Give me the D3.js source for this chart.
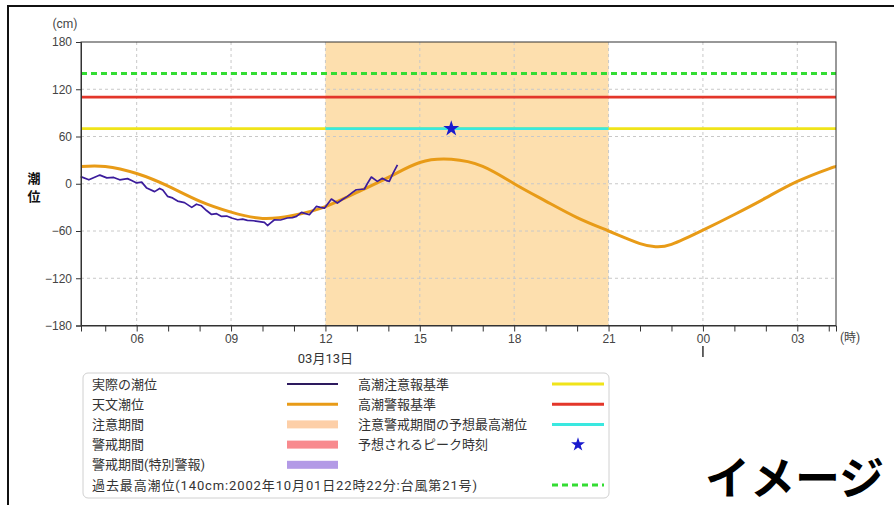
<!DOCTYPE html>
<html>
<head>
<meta charset="utf-8">
<script src="https://cdn.jsdelivr.net/npm/d3@7"></script>
<style>
  body { margin: 0; background: #fff; }
  svg { display: block; font-family: Roboto, "Noto Sans CJK JP", sans-serif; }
</style>
</head>
<body>
<svg id="chart" width="894" height="505"></svg>
<script>
// hours are counted from 03/13 00:00
var domainHours = [4.23, 28.23];

var tideHours  = [4.23, 5, 6, 7, 8, 9, 10, 11, 12, 13, 14, 15, 16, 17, 18, 19, 20, 21, 22, 22.5, 23, 24, 25, 26, 27, 28, 28.23];
var tideValues = [22, 22, 13, -3, -22, -36, -44, -40, -29, -11, 8, 27, 31, 22, 0, -22, -43, -60, -76, -80, -77, -59, -39, -18, 3, 19, 22];

var obsHours = [4.22, 4.48, 4.83, 5.05, 5.27, 5.46, 5.71, 5.84, 6.0, 6.16, 6.32, 6.57, 6.73, 6.83, 6.98, 7.14, 7.30, 7.52, 7.75, 7.90,
                8.06, 8.22, 8.38, 8.54, 8.70, 8.86, 9.02, 9.21, 9.37, 9.52, 9.71, 9.90, 10.06, 10.16, 10.25, 10.38, 10.57, 10.79, 10.95,
                11.08, 11.24, 11.37, 11.49, 11.71, 11.84, 11.97, 12.19, 12.38, 12.54, 12.70, 12.86, 12.98, 13.24, 13.33, 13.46, 13.65,
                13.81, 13.94, 14.03, 14.16, 14.29];
var obsValues = [9, 5, 11, 7.5, 8, 5, 6.5, 4, 1, 2, -5.5, -10, -6, -8, -16, -18, -22, -24, -30, -26,
                 -28, -34, -39, -38, -41.5, -41, -43.5, -45.7, -45, -46.5, -47, -48, -49, -53, -50, -45.7, -46, -43.5, -43,
                 -41.5, -36.4, -38, -39.3, -28.8, -30, -31, -19.4, -24.5, -20, -16, -11, -7.6, -6.7, 0, 8.5, 3,
                 7, 4, 3, 14, 24];

var attentionLevel = 70;   // 高潮注意報基準
var warningLevel = 110;    // 高潮警報基準
var recordLevel = 140;     // 過去最高潮位
var cautionPeriod = [12, 21];
var predictedMax = 70;
var peakHour = 16;

var yTicks = [-180, -120, -60, 0, 60, 120, 180];
var dateLabel = '03月13日';

var legendLeft = ['実際の潮位', '天文潮位', '注意期間', '警戒期間', '警戒期間(特別警報)'];
var legendRight = ['高潮注意報基準', '高潮警報基準', '注意警戒期間の予想最高潮位', '予想されるピーク時刻'];
var recordLabel = '過去最高潮位(140cm:2002年10月01日22時22分:台風第21号)';

var base = new Date(2025, 2, 13);
function toDate(h) { return new Date(base.getTime() + h * 3600000); }

var svg = d3.select('#chart');
var plotLeft = 81, plotRight = 836, plotTop = 42, plotBottom = 325.5;

// outer frame
svg.append('rect')
    .attr('x', 8).attr('y', 6).attr('width', 900).attr('height', 520)
    .attr('fill', 'none').attr('stroke', '#111').attr('stroke-width', 2);

var x = d3.scaleTime()
    .domain(domainHours.map(toDate))
    .range([plotLeft, plotRight]);

var y = d3.scaleLinear()
    .domain([-180, 180])
    .range([plotBottom, plotTop]);

var g = svg.append('g');

// caution period
g.append('rect')
    .attr('x', x(toDate(cautionPeriod[0])))
    .attr('y', plotTop)
    .attr('width', x(toDate(cautionPeriod[1])) - x(toDate(cautionPeriod[0])))
    .attr('height', plotBottom - plotTop)
    .attr('fill', '#fddfae');

// grid
var majorHours = d3.timeHour.every(3).range(toDate(domainHours[0]), toDate(domainHours[1]));
g.append('g').selectAll('line')
    .data(majorHours)
    .enter().append('line')
    .attr('x1', function (d) { return x(d); })
    .attr('x2', function (d) { return x(d); })
    .attr('y1', plotTop).attr('y2', plotBottom)
    .attr('stroke', '#c8c8c8').attr('stroke-dasharray', '3,3');

g.append('g').selectAll('line')
    .data(yTicks.slice(1, -1))
    .enter().append('line')
    .attr('x1', plotLeft).attr('x2', plotRight)
    .attr('y1', function (d) { return y(d); })
    .attr('y2', function (d) { return y(d); })
    .attr('stroke', '#c8c8c8').attr('stroke-dasharray', '3,3');

// reference levels
function hline(v, color, w, dash, h0, h1) {
    g.append('line')
        .attr('x1', x(toDate(h0))).attr('x2', x(toDate(h1)))
        .attr('y1', y(v)).attr('y2', y(v))
        .attr('stroke', color).attr('stroke-width', w)
        .attr('stroke-dasharray', dash);
}
hline(recordLevel, '#33dd33', 3, '6,4', domainHours[0], domainHours[1]);
hline(warningLevel, '#e3362a', 2.8, null, domainHours[0], domainHours[1]);
hline(attentionLevel, '#f0e41a', 2.8, null, domainHours[0], domainHours[1]);
hline(predictedMax, '#3ae8e0', 2.8, null, cautionPeriod[0], cautionPeriod[1]);

// astronomical tide
var tide = tideHours.map(function (h, i) { return { t: toDate(h), v: tideValues[i] }; });
g.append('path')
    .datum(tide)
    .attr('fill', 'none')
    .attr('stroke', '#e89b17')
    .attr('stroke-width', 3)
    .attr('d', d3.line()
        .x(function (d) { return x(d.t); })
        .y(function (d) { return y(d.v); })
        .curve(d3.curveNatural));

// observed
var obs = obsHours.map(function (h, i) { return { t: toDate(h), v: obsValues[i] }; });
g.append('path')
    .datum(obs)
    .attr('fill', 'none')
    .attr('stroke', '#3b1c9c')
    .attr('stroke-width', 1.7)
    .attr('stroke-linejoin', 'round')
    .attr('d', d3.line()
        .x(function (d) { return x(d.t); })
        .y(function (d) { return y(d.v); }));

// peak star
g.append('path')
    .attr('d', d3.symbol().type(d3.symbolStar).size(80))
    .attr('transform', 'translate(' + x(toDate(peakHour)) + ',' + y(predictedMax) + ')')
    .attr('fill', '#1a1acd');

// plot frame
g.append('rect')
    .attr('x', plotLeft).attr('y', plotTop)
    .attr('width', plotRight - plotLeft).attr('height', plotBottom - plotTop)
    .attr('fill', 'none').attr('stroke', '#333');

// axes
var xAxis = g.append('g')
    .attr('transform', 'translate(0,' + plotBottom + ')')
    .call(d3.axisBottom(x)
        .ticks(d3.timeHour.every(1))
        .tickSize(6)
        .tickFormat(function (d) { return d.getHours() % 3 === 0 ? d3.timeFormat('%H')(d) : ''; }));
xAxis.selectAll('text').attr('font-size', 12).attr('fill', '#444');
xAxis.selectAll('line, path').attr('stroke', '#333');

var yAxis = g.append('g')
    .attr('transform', 'translate(' + plotLeft + ',0)')
    .call(d3.axisLeft(y).tickValues(yTicks).tickSize(5).tickPadding(4));
yAxis.selectAll('text').attr('font-size', 12).attr('fill', '#444');
yAxis.selectAll('line, path').attr('stroke', '#333');

svg.append('text').attr('x', 65).attr('y', 28).attr('text-anchor', 'middle')
    .attr('font-size', 12).attr('fill', '#444').text('(cm)');
svg.append('text').attr('x', 840).attr('y', 342)
    .attr('font-size', 12).attr('fill', '#444').text('(時)');

svg.selectAll('.ylab').data(['潮', '位']).enter().append('text')
    .attr('x', 34).attr('y', function (d, i) { return 183 + i * 18; })
    .attr('text-anchor', 'middle').attr('font-size', 13).attr('font-weight', 'bold')
    .attr('fill', '#111').text(function (d) { return d; });

svg.append('text')
    .attr('x', x(toDate(12))).attr('y', 363)
    .attr('text-anchor', 'middle').attr('font-size', 13).attr('fill', '#333')
    .text(dateLabel);

svg.append('line')
    .attr('x1', x(toDate(24))).attr('x2', x(toDate(24)))
    .attr('y1', 346).attr('y2', 357)
    .attr('stroke', '#333').attr('stroke-width', 1.5);

// legend
var lg = svg.append('g').attr('font-size', 13).attr('fill', '#333');
lg.append('rect')
    .attr('x', 83).attr('y', 373).attr('width', 526).attr('height', 125)
    .attr('rx', 5).attr('fill', '#fff').attr('stroke', '#d0d0d0');

var rowY = function (i) { return 384 + i * 20.2; };

var leftSwatches = [
    { type: 'line', color: '#2d1a5e', w: 2 },
    { type: 'line', color: '#e89b17', w: 3 },
    { type: 'rect', color: '#fdcfa8' },
    { type: 'rect', color: '#f88a8e' },
    { type: 'rect', color: '#b39ae6' }
];
var rightSwatches = [
    { type: 'line', color: '#f0e41a', w: 3 },
    { type: 'line', color: '#e3362a', w: 3 },
    { type: 'line', color: '#3ae8e0', w: 3 },
    { type: 'star', color: '#1a1acd' }
];

function drawSwatch(s, x0, x1, cy) {
    if (s.type === 'line') {
        lg.append('line').attr('x1', x0).attr('x2', x1).attr('y1', cy).attr('y2', cy)
            .attr('stroke', s.color).attr('stroke-width', s.w)
            .attr('stroke-dasharray', s.dash || null);
    } else if (s.type === 'rect') {
        lg.append('rect').attr('x', x0).attr('y', cy - 4).attr('width', x1 - x0).attr('height', 8)
            .attr('fill', s.color);
    } else {
        lg.append('path').attr('d', d3.symbol().type(d3.symbolStar).size(60))
            .attr('transform', 'translate(' + ((x0 + x1) / 2) + ',' + cy + ')')
            .attr('fill', s.color);
    }
}

legendLeft.forEach(function (t, i) {
    lg.append('text').attr('x', 92).attr('y', rowY(i)).attr('dy', '0.35em').text(t);
    drawSwatch(leftSwatches[i], 287, 338, rowY(i));
});
legendRight.forEach(function (t, i) {
    lg.append('text').attr('x', 358).attr('y', rowY(i)).attr('dy', '0.35em').text(t);
    drawSwatch(rightSwatches[i], 552, 604, rowY(i));
});
lg.append('text').attr('x', 92).attr('y', rowY(5)).attr('dy', '0.35em')
    .attr('textLength', 385).attr('lengthAdjust', 'spacing')
    .text(recordLabel);
drawSwatch({ type: 'line', color: '#33dd33', w: 3, dash: '6,4' }, 552, 604, rowY(5));

svg.append('text')
    .attr('x', 705).attr('y', 495)
    .attr('font-family', '"Noto Sans CJK JP", sans-serif')
    .attr('font-size', 45).attr('font-weight', 'bold').attr('fill', '#000')
    .text('イメージ');
</script>
</body>
</html>
